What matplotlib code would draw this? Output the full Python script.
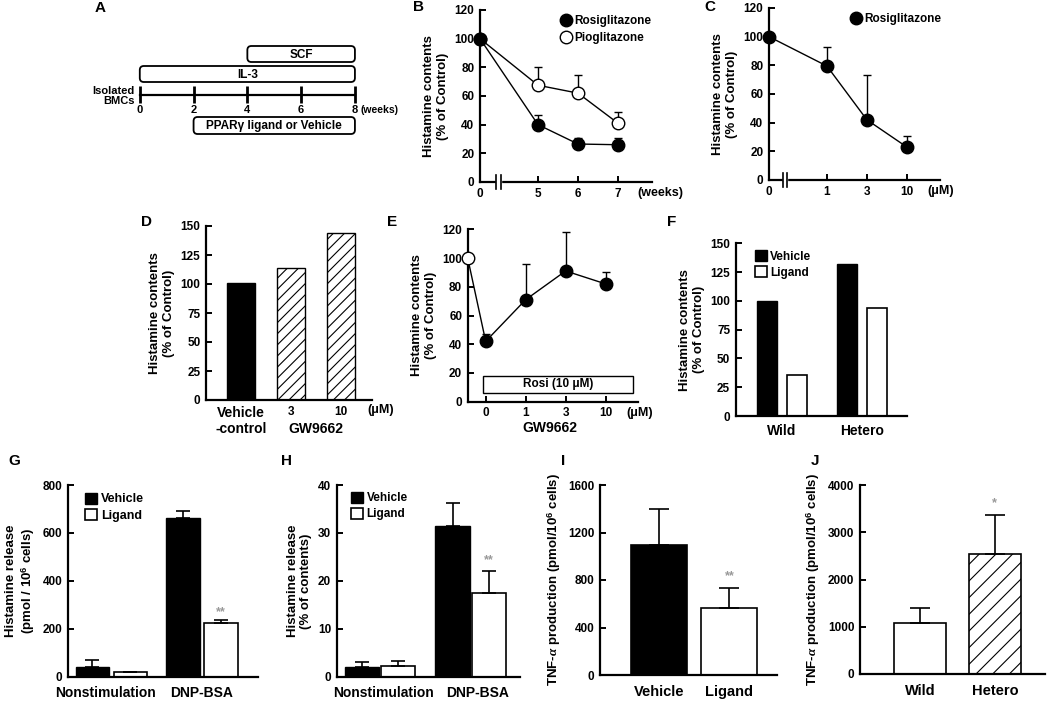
import numpy as np
import matplotlib
matplotlib.use("Agg")
import matplotlib.pyplot as plt
from matplotlib.patches import FancyBboxPatch, Rectangle
from matplotlib.lines import Line2D
from matplotlib.transforms import blended_transform_factory

plt.rcParams['font.family'] = ['Liberation Sans', 'DejaVu Sans']
plt.rcParams['font.weight'] = 'bold'
plt.rcParams['axes.labelweight'] = 'bold'
plt.rcParams['mathtext.fontset'] = 'custom'
plt.rcParams['mathtext.it'] = 'Liberation Serif:italic'
plt.rcParams['mathtext.rm'] = 'Liberation Sans:bold'
plt.rcParams['hatch.linewidth'] = 0.8

# ---- data ----
# A: culture schedule (weeks)
a_names = ['SCF', 'IL-3', 'PPAR\u03b3 ligand or Vehicle']
a_start = [4, 0, 2]
a_end = [8, 8, 8]
a_weeks = [0, 2, 4, 6, 8]

# B: time course
b_weeks = ['0', '5', '6', '7']
b_rosi = [100, 40, 26.5, 26]
b_rosi_err = [0, 7, 4.5, 5]
b_pio = [100, 67.5, 62, 41]
b_pio_err = [0, 13, 13, 8]

# C: dose response
c_doses = ['0', '1', '3', '10']
c_rosi = [100, 79.5, 42, 23]
c_rosi_err = [0, 13.5, 31, 8]

# D: GW9662 alone
d_labels = ['Vehicle\n-control', '3', '10']
d_vals = [101, 114, 144]

# E: Rosi + GW9662
e_ctrl = 100
e_doses = ['0', '1', '3', '10']
e_vals = [42, 71, 91, 82]
e_err = [5, 24.5, 27, 8]

# F: Wild / Hetero
f_groups = ['Wild', 'Hetero']
f_vehicle = [100, 132]
f_ligand = [35.5, 94]

# G: histamine release (pmol)
g_groups = ['Nonstimulation', 'DNP-BSA']
g_vehicle = [41, 663]
g_vehicle_err = [28, 27]
g_ligand = [20, 225]
g_ligand_err = [0, 11]

# H: histamine release (%)
h_vehicle = [2.1, 31.4]
h_vehicle_err = [1.0, 4.8]
h_ligand = [2.2, 17.4]
h_ligand_err = [1.1, 4.7]

# I: TNF-a vehicle/ligand
i_groups = ['Vehicle', 'Ligand']
i_vals = [1095, 567]
i_err = [303, 163]

# J: TNF-a wild/hetero
j_groups = ['Wild', 'Hetero']
j_vals = [1072, 2530]
j_err = [318, 830]

W, H = 1050, 701
fig = plt.figure(figsize=(W / 100, H / 100), dpi=100)


def px_axes(l, t, r, b):
    return fig.add_axes([l / W, 1 - b / H, (r - l) / W, (b - t) / H])


def style(ax, top, step):
    for s in ['top', 'right']:
        ax.spines[s].set_visible(False)
    for s in ['left', 'bottom']:
        ax.spines[s].set_linewidth(1.6)
    ax.set_ylim(0, top)
    ax.set_yticks(np.arange(0, top + 1, step))
    ax.tick_params(direction='in', length=4, width=1.4, labelsize=8.5)
    ax.tick_params(axis='y', pad=4)
    ax.tick_params(axis='x', pad=4)


def add_break(ax, x0, x1):
    tr = blended_transform_factory(ax.transData, ax.transAxes)
    ax.add_patch(Rectangle((x0, -0.05), x1 - x0, 0.1, transform=tr,
                           color='white', clip_on=False, zorder=3))
    for x in (x0, x1):
        ax.plot([x, x], [-0.04, 0.04], transform=tr, color='k', lw=1.2,
                clip_on=False, zorder=4)


def side_text(ax, x, s, dy=-0.065, size=8):
    tr = blended_transform_factory(ax.transData, ax.transAxes)
    ax.text(x, dy, s, transform=tr, ha='center', va='center', fontsize=size)


def stars(ax, x, y, s):
    ax.text(x, y, s, ha='center', va='center', fontsize=9, color='#999999')


ylab_hc = 'Histamine contents\n(% of Control)'
lab_size = 9.5

# ---- A ----
axA = px_axes(86, 36, 395, 145)
axA.set_xlim(-2.0, 9.49)
axA.set_ylim(145, 36)
axA.axis('off')
rows = [(46, 62), (66, 82), (117, 134)]
for name, s, e, (y0, y1) in zip(a_names, a_start, a_end, rows):
    axA.add_patch(FancyBboxPatch((s, y0), e - s, y1 - y0,
                                 boxstyle='round,pad=0,rounding_size=0.15',
                                 mutation_aspect=26.875, fc='white', ec='k', lw=1.3))
    axA.text((s + e) / 2, (y0 + y1) / 2 + 0.5, name, ha='center', va='center', fontsize=8.5)
axA.plot([a_weeks[0], a_weeks[-1]], [95, 95], color='k', lw=1.6)
axA.vlines(a_weeks, 86, 103, color='k', lw=2)
for w in a_weeks:
    axA.text(w, 110, str(w), ha='center', va='center', fontsize=8)
axA.text(a_weeks[-1] + 0.2, 110, '(weeks)', ha='left', va='center', fontsize=7.5)
axA.text(-0.2, 96, 'Isolated\nBMCs', ha='right', va='center', fontsize=8, linespacing=1.1)

# ---- B ----
axB = px_axes(480, 10, 652, 182)
style(axB, 120, 20)
b_pos = [0, 1.45, 2.45, 3.45]
axB.set_xlim(0, 4.3)
axB.errorbar(b_pos, b_pio, yerr=[np.zeros(4), b_pio_err], fmt='-o', color='k',
             mfc='white', mec='k', ms=9, lw=1, capsize=3, elinewidth=1, clip_on=False)
axB.errorbar(b_pos, b_rosi, yerr=[np.zeros(4), b_rosi_err], fmt='-o', color='k',
             mfc='k', ms=9, lw=1, capsize=3, elinewidth=1, clip_on=False)
axB.set_xticks(b_pos, b_weeks)
add_break(axB, 0.4, 0.52)
side_text(axB, 4.5, '(weeks)', size=9)
axB.set_ylabel(ylab_hc, fontsize=lab_size, labelpad=4)
hB = [Line2D([], [], ls='none', marker='o', ms=9, mfc='k', mec='k'),
      Line2D([], [], ls='none', marker='o', ms=9, mfc='white', mec='k')]
axB.legend(hB, ['Rosiglitazone', 'Pioglitazone'], loc='upper left',
           bbox_to_anchor=(0.41, 1.03), frameon=False, fontsize=8.5,
           handlelength=0.8, handletextpad=0.3, labelspacing=0.4)

# ---- C ----
axC = px_axes(769, 8, 940, 180)
style(axC, 120, 20)
c_pos = [0, 1.45, 2.45, 3.45]
axC.set_xlim(0, 4.28)
axC.errorbar(c_pos, c_rosi, yerr=[np.zeros(4), c_rosi_err], fmt='-o', color='k',
             mfc='k', ms=9, lw=1, capsize=3, elinewidth=1, clip_on=False)
axC.set_xticks(c_pos, c_doses)
add_break(axC, 0.34, 0.46)
side_text(axC, 4.3, '(\u03bcM)', size=9)
axC.set_ylabel(ylab_hc, fontsize=lab_size, labelpad=4)
axC.legend([Line2D([], [], ls='none', marker='o', ms=9, mfc='k', mec='k')],
           ['Rosiglitazone'], loc='upper left', bbox_to_anchor=(0.42, 1.03),
           frameon=False, fontsize=8.5, handlelength=0.8, handletextpad=0.3)

# ---- D ----
axD = px_axes(206, 226, 372, 400)
style(axD, 150, 25)
d_pos = np.arange(len(d_vals))
axD.set_xlim(-0.7, 2.62)
barsD = axD.bar(d_pos, d_vals, width=0.56, color=['k', 'white', 'white'],
                edgecolor='k', lw=1)
for p in barsD.patches[1:]:
    p.set_hatch('///')
axD.set_xticks(d_pos, d_labels)
axD.tick_params(axis='x', length=0, pad=4)
for lab in axD.get_xticklabels():
    lab.set_fontsize(10 if '\n' in lab.get_text() else 8.5)
side_text(axD, 2.8, '(\u03bcM)', dy=-0.058, size=9)
side_text(axD, 1.5, 'GW9662', dy=-0.167, size=10)
axD.set_ylabel(ylab_hc, fontsize=lab_size, labelpad=4)

# ---- E ----
axE = px_axes(467.7, 229.3, 638, 401.7)
style(axE, 120, 20)
e_pos = np.arange(len(e_vals))
axE.set_xlim(-0.45, 3.81)
axE.plot([-0.45, e_pos[0]], [e_ctrl, e_vals[0]], color='k', lw=1)
axE.add_patch(Rectangle((-0.07, 5.8), 3.76, 12.3, fc='white', ec='k', lw=1))
axE.text(1.81, 12, 'Rosi (10 \u03bcM)', ha='center', va='center', fontsize=8.5)
axE.errorbar(e_pos, e_vals, yerr=[np.zeros(4), e_err], fmt='-o', color='k',
             mfc='k', ms=9, lw=1, capsize=3, elinewidth=1, clip_on=False)
axE.plot([-0.45], [e_ctrl], 'o', ms=9, mfc='white', mec='k', clip_on=False, zorder=5)
axE.set_xticks(e_pos, e_doses)
side_text(axE, 3.85, '(\u03bcM)', dy=-0.065, size=9)
side_text(axE, 1.6, 'GW9662', dy=-0.15, size=10)
axE.set_ylabel(ylab_hc, fontsize=lab_size, labelpad=4)

# ---- F ----
axF = px_axes(735.7, 243.3, 906.7, 416)
style(axF, 150, 25)
f_pos = np.arange(len(f_groups))
axF.set_xlim(-0.58, 1.56)
axF.bar(f_pos - 0.19, f_vehicle, width=0.25, color='k', edgecolor='k', lw=1, label='Vehicle')
axF.bar(f_pos + 0.19, f_ligand, width=0.25, color='white', edgecolor='k', lw=1.2, label='Ligand')
axF.set_xticks(f_pos, f_groups, fontsize=10)
axF.tick_params(axis='x', length=0, pad=6)
axF.set_ylabel(ylab_hc, fontsize=lab_size, labelpad=4)
axF.legend(loc='upper left', bbox_to_anchor=(0.07, 1.0), frameon=False, fontsize=8.5,
           handlelength=1.0, handleheight=1.0, handletextpad=0.3, labelspacing=0.3,
           borderaxespad=0.2)


def grouped(ax, veh, veh_err, lig, lig_err, off, width, cap):
    pos = np.arange(len(veh))
    ax.bar(pos - off, veh, width=width, color='k', edgecolor='k', lw=1, label='Vehicle')
    ax.bar(pos + off, lig, width=width, color='white', edgecolor='k', lw=1.2, label='Ligand')
    ax.errorbar(pos - off, veh, yerr=[np.zeros(len(veh)), veh_err], fmt='none',
                ecolor='k', elinewidth=1.2, capsize=cap, capthick=1.2, zorder=1)
    ax.errorbar(pos + off, lig, yerr=[np.zeros(len(lig)), lig_err], fmt='none',
                ecolor='k', elinewidth=1.2, capsize=cap, capthick=1.2, zorder=1)
    return pos


# ---- G ----
axG = px_axes(67.7, 485, 258, 676.7)
style(axG, 800, 200)
g_pos = grouped(axG, g_vehicle, g_vehicle_err, g_ligand, g_ligand_err, 0.21, 0.37, 5)
axG.set_xlim(-0.484, 1.62)
axG.set_xticks(g_pos - np.array([0.07, 0]), g_groups, fontsize=10)
axG.tick_params(axis='x', length=0, pad=7)
stars(axG, g_pos[1] + 0.21, g_ligand[1] + g_ligand_err[1] + 33, '**')
axG.set_ylabel('Histamine release\n(pmol / 10$^{\\mathregular{6}}$ cells)',
               fontsize=lab_size, labelpad=4)
axG.legend(loc='upper left', bbox_to_anchor=(0.05, 1.0), frameon=False, fontsize=9,
           handlelength=1.0, handleheight=1.0, handletextpad=0.3, labelspacing=0.3,
           borderaxespad=0.2)

# ---- H ----
axH = px_axes(336.7, 485, 520, 676.7)
style(axH, 40, 10)
h_pos = grouped(axH, h_vehicle, h_vehicle_err, h_ligand, h_ligand_err, 0.2, 0.38, 5)
axH.set_xlim(-0.476, 1.54)
axH.set_xticks(h_pos + np.array([0.04, 0.07]), g_groups, fontsize=10)
axH.tick_params(axis='x', length=0, pad=7)
stars(axH, h_pos[1] + 0.2, h_ligand[1] + h_ligand_err[1] + 2.3, '**')
axH.set_ylabel('Histamine release\n(% of contents)', fontsize=lab_size, labelpad=4)
axH.legend(loc='upper left', bbox_to_anchor=(0.04, 1.0), frameon=False, fontsize=8.5,
           handlelength=1.0, handleheight=1.0, handletextpad=0.3, labelspacing=0.3,
           borderaxespad=0.2)

tnf_label = 'TNF-$\\alpha$ production (pmol/10$^{\\mathregular{6}}$ cells)'

# ---- I ----
axI = px_axes(600, 485, 777, 675)
style(axI, 1600, 400)
i_pos = np.arange(len(i_vals))
axI.bar(i_pos, i_vals, width=0.8, color=['k', 'white'], edgecolor='k', lw=1.2)
axI.errorbar(i_pos, i_vals, yerr=[np.zeros(2), i_err], fmt='none', ecolor='k',
             elinewidth=1.2, capsize=7, capthick=1.2, zorder=1)
axI.set_xlim(-0.85, 1.68)
axI.set_xticks(i_pos, i_groups, fontsize=10.5)
axI.tick_params(axis='x', length=0, pad=7)
stars(axI, i_pos[1], i_vals[1] + i_err[1] + 100, '**')
axI.set_ylabel(tnf_label, fontsize=lab_size, labelpad=4)

# ---- J ----
axJ = px_axes(860, 485, 1045, 674)
style(axJ, 4000, 1000)
j_pos = np.arange(len(j_vals))
barsJ = axJ.bar(j_pos, j_vals, width=0.69, color='white', edgecolor='k', lw=1.2)
barsJ.patches[1].set_hatch('//')
axJ.errorbar(j_pos, j_vals, yerr=[np.zeros(2), j_err], fmt='none', ecolor='k',
             elinewidth=1.2, capsize=7, capthick=1.2, zorder=1)
axJ.set_xlim(-0.8, 1.67)
axJ.set_xticks(j_pos, j_groups, fontsize=10.5)
axJ.tick_params(axis='x', length=0, pad=7)
stars(axJ, j_pos[1], j_vals[1] + j_err[1] + 260, '*')
axJ.set_ylabel(tnf_label, fontsize=lab_size, labelpad=4)

# panel letters
letters = {'A': (100, 8), 'B': (418, 7), 'C': (710, 7), 'D': (147, 222),
           'E': (392, 222), 'F': (672, 222), 'G': (14, 461), 'H': (287, 461),
           'I': (563, 461), 'J': (815, 461)}
for k, (x, y) in letters.items():
    fig.text(x / W, 1 - y / H, k, ha='center', va='center', fontsize=11, weight='bold')

fig.savefig('out.png', dpi=100)
